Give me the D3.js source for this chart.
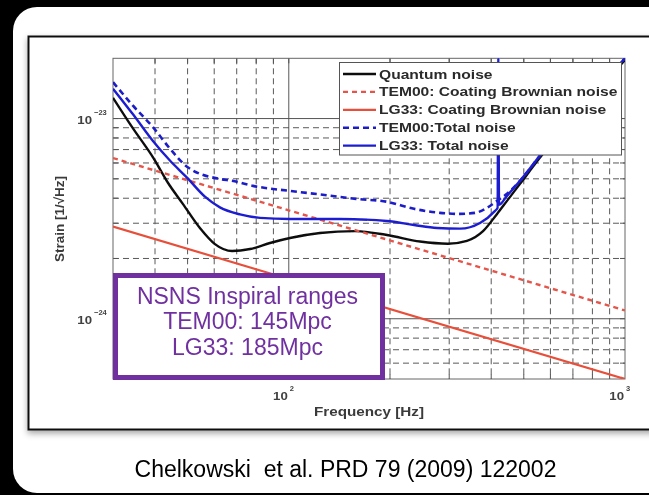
<!DOCTYPE html>
<html>
<head>
<meta charset="utf-8">
<script src="https://cdn.jsdelivr.net/npm/d3@7"></script>
<style>
  html, body { margin: 0; padding: 0; background: #000; }
  svg { display: block; }
  text { font-family: "Liberation Sans", Arial, Helvetica, sans-serif; }
</style>
</head>
<body>
<svg id="chart" width="649" height="495"></svg>
<script>
// ---- Noise spectra (frequency in Hz, strain in 1/sqrt(Hz)) ----
const quantumFreq  = [30, 34.4, 39.5, 43.7, 48.4, 54.4, 60.3, 67.8, 76.7, 87.9, 100.8, 123.8, 157.3, 195.9, 245.6, 297.5, 338.8, 378.2, 416.3, 445.7, 487.2, 558.7, 686.2, 842.6, 1000];
const quantumNoise = [1.27e-23, 8.93e-24, 6.38e-24, 4.78e-24, 3.75e-24, 2.84e-24, 2.36e-24, 2.18e-24, 2.23e-24, 2.39e-24, 2.53e-24, 2.68e-24, 2.74e-24, 2.62e-24, 2.43e-24, 2.37e-24, 2.45e-24, 2.74e-24, 3.34e-24, 3.88e-24, 4.72e-24, 6.38e-24, 9.8e-24, 1.42e-23, 1.96e-23];

const coatingFreq   = [30, 100, 1000];
const tem00Coating  = [6.35e-24, 3.48e-24, 1.1e-24];
const lg33Coating   = [2.89e-24, 1.58e-24, 5.0e-25];

const tem00TotalFreq = [30, 34.4, 39.5, 44.3, 49.8, 62.4, 67.8, 78.3, 100.8, 123.8, 158.5, 195.9, 235.8, 281.6, 323, 357.9, 388.7, 416.3, 445.7, 487.2, 558.7, 686.2, 842.6, 1000];
const tem00Total     = [1.52e-23, 1.16e-23, 9.03e-24, 7.08e-24, 5.75e-24, 4.99e-24, 4.89e-24, 4.61e-24, 4.35e-24, 4.18e-24, 3.97e-24, 3.84e-24, 3.54e-24, 3.38e-24, 3.34e-24, 3.38e-24, 3.58e-24, 3.88e-24, 4.21e-24, 4.89e-24, 6.53e-24, 1.0e-23, 1.47e-23, 2.0e-23];

const lg33TotalFreq = [30, 34.4, 39.5, 44.3, 49.8, 56.3, 62.4, 71.6, 82.1, 100.8, 142, 195.9, 235.8, 276, 323, 370.5, 410.6, 417.8, 420, 422, 445.7, 487.2, 558.7, 686.2, 842.6, 1000];
const lg33Total     = [1.41e-23, 1.05e-23, 7.7e-24, 6.17e-24, 5.07e-24, 4.07e-24, 3.6e-24, 3.32e-24, 3.19e-24, 3.15e-24, 3.15e-24, 3.08e-24, 2.94e-24, 2.84e-24, 2.82e-24, 3.01e-24, 3.46e-24, 3.58e-24, 2.0e-23, 3.71e-24, 4.11e-24, 4.89e-24, 6.53e-24, 1.0e-23, 1.47e-23, 2.0e-23];

// ---- Axes ----
const xDomain = [30, 1000];
const yDomain = [5e-25, 2e-23];
const xMinorGrid = [40, 50, 60, 70, 80, 90, 200, 300, 400, 500, 600, 700, 800, 900];
const xMajorGrid = [100];
const yMinorGrid = [6e-25, 7e-25, 8e-25, 9e-25, 2e-24, 3e-24, 4e-24, 5e-24, 6e-24, 7e-24, 8e-24, 9e-24];
const yMajorGrid = [1e-24, 1e-23];
const xTickValues = [100, 1000];
const xTickExponents = ["2", "3"];
const yTickValues = [1e-24, 1e-23];
const yTickExponents = ["-24", "-23"];

const legendLabels = ["Quantum noise", "TEM00: Coating Brownian noise", "LG33: Coating Brownian noise", "TEM00:Total noise", "LG33: Total noise"];
const rangeLines = ["NSNS Inspiral ranges", "TEM00: 145Mpc", "LG33: 185Mpc"];
const citation = "Chelkowski  et al. PRD 79 (2009) 122002";

// ---- Styles ----
const styles = [
  { color: "#111111", dash: null,  width: 2.4 },
  { color: "#e4574c", dash: "5,4", width: 2.4 },
  { color: "#e8503a", dash: null,  width: 2.2 },
  { color: "#1f1fc8", dash: "6,4", width: 2.6 },
  { color: "#1f1fd0", dash: null,  width: 2.4 }
];
const series = [
  { f: quantumFreq,    v: quantumNoise },
  { f: coatingFreq,    v: tem00Coating },
  { f: coatingFreq,    v: lg33Coating },
  { f: tem00TotalFreq, v: tem00Total },
  { f: lg33TotalFreq,  v: lg33Total }
];

const W = 649, H = 495;
const plot = { left: 113, right: 625, top: 58.3, bottom: 379 };

const svg = d3.select("#chart");
const defs = svg.append("defs");

const shadow = defs.append("filter").attr("id", "frameShadow")
  .attr("x", "-5%").attr("y", "-5%").attr("width", "110%").attr("height", "115%");
shadow.append("feDropShadow").attr("dx", 0).attr("dy", 3).attr("stdDeviation", 3)
  .attr("flood-color", "#000").attr("flood-opacity", 0.35);

const soft = defs.append("filter").attr("id", "soft");
soft.append("feGaussianBlur").attr("stdDeviation", 0.45);

defs.append("clipPath").attr("id", "plotClip").append("rect")
  .attr("x", plot.left).attr("y", plot.top)
  .attr("width", plot.right - plot.left).attr("height", plot.bottom - plot.top);

// Background and slide panel
svg.append("rect").attr("width", W).attr("height", H).attr("fill", "#000");
svg.append("rect").attr("x", 13).attr("y", 7).attr("width", 700).attr("height", 486)
  .attr("rx", 24).attr("fill", "#fff");

// Figure frame
svg.append("rect").attr("x", 28.5).attr("y", 36.5).attr("width", 640).attr("height", 393)
  .attr("fill", "#fff").attr("stroke", "#111").attr("stroke-width", 2)
  .attr("filter", "url(#frameShadow)");

const x = d3.scaleLog().domain(xDomain).range([plot.left, plot.right]);
const y = d3.scaleLog().domain(yDomain).range([plot.bottom, plot.top]);

const fig = svg.append("g").attr("filter", "url(#soft)");

// Grid
const grid = fig.append("g");
grid.selectAll("line.vminor").data(xMinorGrid).join("line")
  .attr("x1", d => x(d)).attr("x2", d => x(d)).attr("y1", plot.top).attr("y2", plot.bottom)
  .attr("stroke", "#5a5a5a").attr("stroke-width", 1).attr("stroke-dasharray", "6,4");
grid.selectAll("line.hminor").data(yMinorGrid).join("line")
  .attr("y1", d => y(d)).attr("y2", d => y(d)).attr("x1", plot.left).attr("x2", plot.right)
  .attr("stroke", "#5a5a5a").attr("stroke-width", 1).attr("stroke-dasharray", "6,4");
grid.selectAll("line.vmajor").data(xMajorGrid).join("line")
  .attr("x1", d => x(d)).attr("x2", d => x(d)).attr("y1", plot.top).attr("y2", plot.bottom)
  .attr("stroke", "#555").attr("stroke-width", 1);
grid.selectAll("line.hmajor").data(yMajorGrid).join("line")
  .attr("y1", d => y(d)).attr("y2", d => y(d)).attr("x1", plot.left).attr("x2", plot.right)
  .attr("stroke", "#555").attr("stroke-width", 1);

// Inner ticks on all four sides
const allX = xMinorGrid.concat(xMajorGrid);
const allY = yMinorGrid.concat(yMajorGrid);
const tickLen = 5;
const ticks = fig.append("g").attr("stroke", "#555").attr("stroke-width", 1);
allX.forEach(v => {
  ticks.append("line").attr("x1", x(v)).attr("x2", x(v)).attr("y1", plot.bottom).attr("y2", plot.bottom - tickLen);
  ticks.append("line").attr("x1", x(v)).attr("x2", x(v)).attr("y1", plot.top).attr("y2", plot.top + tickLen);
});
allY.forEach(v => {
  ticks.append("line").attr("y1", y(v)).attr("y2", y(v)).attr("x1", plot.left).attr("x2", plot.left + tickLen);
  ticks.append("line").attr("y1", y(v)).attr("y2", y(v)).attr("x1", plot.right).attr("x2", plot.right - tickLen);
});

// Plot border
fig.append("rect").attr("x", plot.left).attr("y", plot.top)
  .attr("width", plot.right - plot.left).attr("height", plot.bottom - plot.top)
  .attr("fill", "none").attr("stroke", "#666").attr("stroke-width", 1);

// Curves
const line = d3.line().x(d => x(d[0])).y(d => y(d[1])).curve(d3.curveMonotoneX);
const curves = fig.append("g").attr("clip-path", "url(#plotClip)");
series.forEach((s, i) => {
  const pts = s.f.map((f, k) => [f, s.v[k]]);
  curves.append("path").datum(pts).attr("d", line)
    .attr("fill", "none").attr("stroke", styles[i].color)
    .attr("stroke-width", styles[i].width)
    .attr("stroke-dasharray", styles[i].dash)
    .attr("stroke-linejoin", "round");
});

// Tick labels
const tickLabels = fig.append("g").attr("fill", "#404040").attr("font-weight", "bold");
xTickValues.forEach((v, i) => {
  tickLabels.append("text").attr("transform", `translate(${x(v) - 1},400) scale(1.15,1)`)
    .attr("text-anchor", "end").attr("font-size", 11.5).text("10");
  tickLabels.append("text").attr("x", x(v) + 1).attr("y", 391)
    .attr("font-size", 7.5).text(xTickExponents[i]);
});
yTickValues.forEach((v, i) => {
  tickLabels.append("text").attr("transform", `translate(92,${y(v) + 5}) scale(1.15,1)`)
    .attr("text-anchor", "end").attr("font-size", 11.5).text("10");
  tickLabels.append("text").attr("x", 94).attr("y", y(v) - 4)
    .attr("font-size", 7.5).text("\u2212" + yTickExponents[i].slice(1));
});

// Axis titles
fig.append("text").attr("transform", "translate(369,416) scale(1.22,1)")
  .attr("text-anchor", "middle").attr("font-size", 12.5).attr("font-weight", "bold")
  .attr("fill", "#3a3a3a").text("Frequency [Hz]");
fig.append("text").attr("transform", "translate(64,219) rotate(-90)")
  .attr("text-anchor", "middle").attr("font-size", 13.5).attr("font-weight", "bold")
  .attr("fill", "#3a3a3a").text("Strain [1/\u221AHz]");

// Legend
const legend = fig.append("g");
legend.append("rect").attr("x", 339.5).attr("y", 62.5).attr("width", 282).attr("height", 92.5)
  .attr("fill", "#fff").attr("stroke", "#555").attr("stroke-width", 1);
legendLabels.forEach((lab, i) => {
  const ly = 74 + i * 17.9;
  legend.append("line").attr("x1", 343).attr("x2", 376).attr("y1", ly).attr("y2", ly)
    .attr("stroke", styles[i].color).attr("stroke-width", styles[i].width)
    .attr("stroke-dasharray", styles[i].dash);
  legend.append("text").attr("transform", `translate(379,${ly + 4.5}) scale(1.25,1)`)
    .attr("font-size", 12.5).attr("font-weight", "bold").attr("fill", "#2a2a2a").text(lab);
});

// Inspiral range box
svg.append("rect").attr("x", 115.5).attr("y", 275.5).attr("width", 267).attr("height", 102)
  .attr("fill", "#fff").attr("stroke", "#7030a0").attr("stroke-width", 5);
const rangeY = [304, 329, 355];
rangeLines.forEach((t, i) => {
  svg.append("text").attr("x", 247.5).attr("y", rangeY[i]).attr("text-anchor", "middle")
    .attr("font-size", 23).attr("fill", "#7030a0").text(t);
});

// Citation
svg.append("text").attr("x", 345.5).attr("y", 477).attr("text-anchor", "middle")
  .attr("font-size", 23).attr("fill", "#000").style("white-space", "pre").text(citation);
</script>
</body>
</html>
